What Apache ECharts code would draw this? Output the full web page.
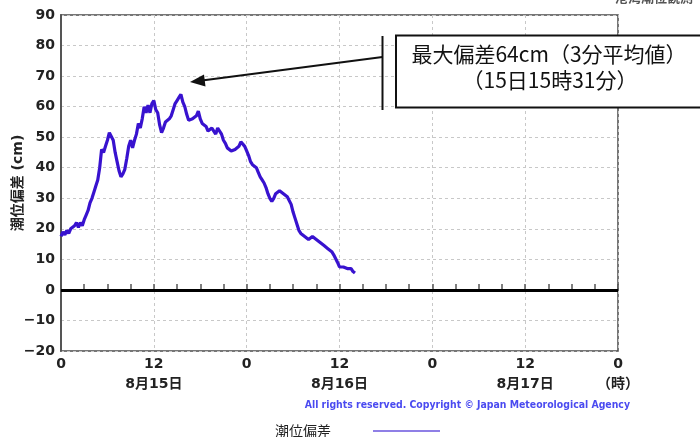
<!DOCTYPE html>
<html>
<head>
<meta charset="utf-8">
<script src="https://cdn.jsdelivr.net/npm/echarts@6/dist/echarts.min.js"></script>
<style>
html,body{margin:0;padding:0;background:#fff;}
#c{width:700px;height:437px;}
</style>
</head>
<body>
<div id="c"></div>
<script>
// Time step (hours) between samples, starting 8/15 00:00
const stepHours = 0.25;
// Storm surge (tide deviation) values in cm, every 15 min from 8/15 00:00
const deviation = [
  17.5,19,18,19.5,18.5,20,19.5,21,22,20.5,22,21,23,24.5,26,28.5,
  30,32,34,36,40,46,45,47,49,51.5,51,49,45,42,39,37,
  38,39.5,43,47,49,46.5,49,51,54.5,53,56,60,58,60.5,58,61,
  62,59,58,54,51.5,53,55,54.5,56,57,59,61,62,63,64,61.5,
  60,57.5,55.5,55,56,56.5,57,58.5,56,54.5,54,53.5,52,51.5,53,52,
  51,53,52.5,51,49,48,46.5,46,45.5,45,46,45.5,47,48.5,48,47,
  45.5,44,42,41,40.5,40,38.5,37,36,35,33.5,31.5,30,29,30,31.5,
  32,32.5,32,31.5,31,30.5,30,28,25.5,23.5,21.5,19.5,18.5,18,17.5,17,
  16.5,16.5,17.5,17,16.5,16,15.5,15,14.5,14,13.5,13,12.5,11.5,11,9,
  7.5,7,7.5,8,7,6.5,7,6,5.5
];
const dayLabels = ['8月15日', '8月16日', '8月17日'];
const seriesName = '潮位偏差';
const yAxisName = '潮位偏差 (cm)';
const noteLines = ['最大偏差64cm（3分平均値）', '（15日15時31分）'];
const copyright = 'All rights reserved. Copyright © Japan Meteorological Agency';

const points = deviation.map((v, i) => [i * stepHours, v]);

const FONT = "'DejaVu Sans', 'Noto Sans CJK JP', sans-serif";
const chart = echarts.init(document.getElementById('c'), null, {renderer: 'canvas'});

chart.setOption({
  animation: false,
  backgroundColor: '#fff',
  grid: {left: 61, right: 82, top: 15, bottom: 86, containLabel: false, outerBoundsMode: 'none',
         show: true, borderColor: '#4a4a4a', borderWidth: 1.5, backgroundColor: 'transparent'},
  xAxis: {
    type: 'value', min: 0, max: 72, interval: 12,
    axisLine: {lineStyle: {color: '#555', width: 2}},
    axisTick: {show: true, inside: true, length: 6, lineStyle: {color: '#555', width: 1.5}},
    minorTick: {show: true, splitNumber: 4, length: 6, lineStyle: {color: '#555', width: 1.5}},
    splitLine: {show: true, lineStyle: {color: '#c8c8c8', type: [3, 3], width: 1}},
    axisLabel: {
      margin: 3, color: '#222', fontFamily: FONT, fontWeight: 'bold', fontSize: 14, lineHeight: 20,
      formatter: function (v) {
        const h = v % 24;
        if (v === 72) return '0\n（時）';
        if (h === 12) return '12\n' + dayLabels[Math.floor(v / 24)];
        return String(h);
      }
    }
  },
  yAxis: {
    type: 'value', min: -20, max: 90, interval: 10,
    name: yAxisName, nameLocation: 'middle', nameGap: 36, nameRotate: 90, nameMoveOverlap: false,
    nameTextStyle: {color: '#222', fontFamily: FONT, fontWeight: 'bold', fontSize: 14},
    axisLine: {show: true, lineStyle: {color: '#555', width: 2}},
    axisTick: {show: false},
    splitLine: {show: true, lineStyle: {color: '#c8c8c8', type: [3, 3], width: 1}},
    axisLabel: {
      margin: 6, color: '#222', fontFamily: FONT, fontWeight: 'bold', fontSize: 14,
      formatter: v => (v < 0 ? '−' + Math.abs(v) : String(v))
    }
  },
  legend: {
    left: 270, top: 419, align: 'right', icon: 'rect', itemWidth: 67, itemHeight: 2,
    textStyle: {color: '#222', fontFamily: "'Noto Sans CJK JP', sans-serif", fontSize: 14, padding: [0, 37, 0, 0]},
    data: [{name: seriesName, itemStyle: {color: '#8f7fe6'}}]
  },
  series: [{
    name: seriesName, type: 'line', data: points, showSymbol: false, symbol: 'none',
    lineStyle: {color: '#3812cf', width: 3.2}, itemStyle: {color: '#3812cf'},
    z: 3,
    markLine: {
      silent: true, symbol: 'none', label: {show: false},
      lineStyle: {color: '#000', width: 3, type: 'solid'},
      data: [{yAxis: 0}]
    }
  }],
  graphic: [
    {type: 'text', left: 615, top: -9, style: {text: '港湾潮位観測', fill: '#555', font: "bold 13px 'Noto Sans CJK JP'"}},
    {type: 'text', right: 70, top: 400, style: {text: copyright, fill: '#4a4af0', font: "bold 10.4px 'DejaVu Sans Condensed', 'DejaVu Sans'"}},
    {type: 'rect', shape: {x: 396, y: 35.5, width: 320, height: 72}, style: {fill: '#fff', stroke: '#111', lineWidth: 2}, z: 10},
    {type: 'line', shape: {x1: 382.5, y1: 36, x2: 382.5, y2: 110}, style: {stroke: '#111', lineWidth: 2}, z: 10},
    {type: 'line', shape: {x1: 382.5, y1: 57, x2: 202, y2: 80.5}, style: {stroke: '#111', lineWidth: 2}, z: 10},
    {type: 'polygon', shape: {points: [[190, 82], [204, 74.5], [205.5, 86.5]]}, style: {fill: '#111'}, z: 10},
    {type: 'text', x: 549, y: 54, style: {text: noteLines[0], fill: '#111', font: "21px 'Noto Sans CJK JP'", align: 'center', verticalAlign: 'middle'}, z: 11},
    {type: 'text', x: 550, y: 80, style: {text: noteLines[1], fill: '#111', font: "21px 'Noto Sans CJK JP'", align: 'center', verticalAlign: 'middle'}, z: 11}
  ]
});
</script>
</body>
</html>
